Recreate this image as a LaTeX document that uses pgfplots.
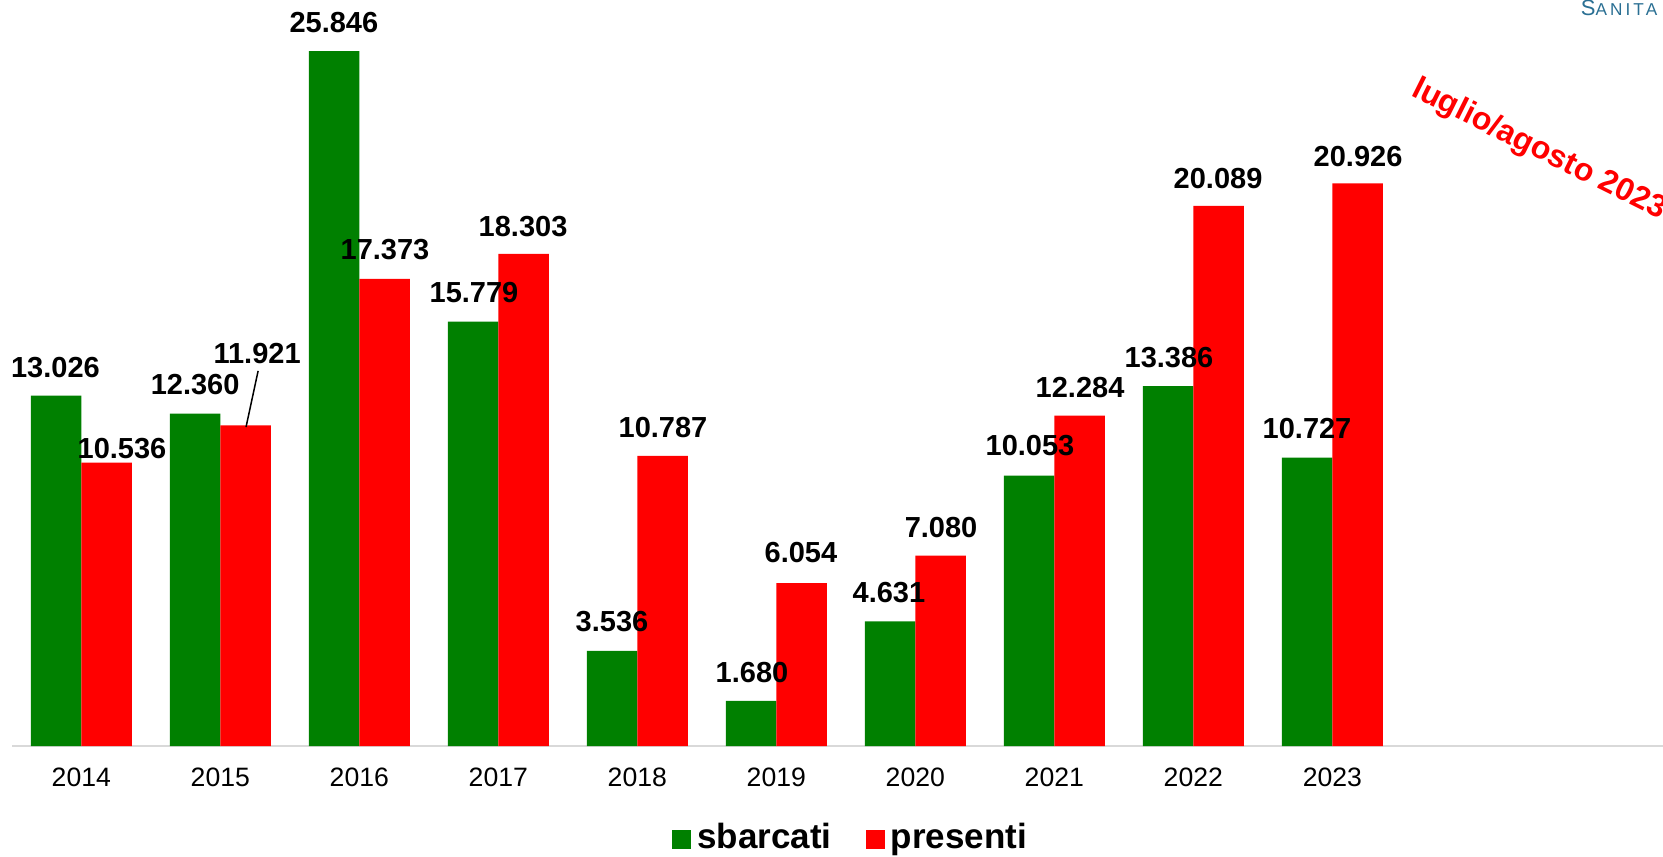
\documentclass[border=0pt]{standalone}
\usepackage{pgfplots}
\pgfplotsset{compat=1.18}
\usepackage{fontspec}
\setmainfont{Liberation Sans}
\definecolor{barG}{HTML}{008000}
\definecolor{barR}{HTML}{FF0000}
\definecolor{axgray}{HTML}{D9D9D9}
\definecolor{logoblue}{HTML}{2A6F93}
\begin{document}
\begin{tikzpicture}
\useasboundingbox (-6pt,-55pt) rectangle (825.5pt,373pt);
\begin{axis}[
  at={(0pt,0pt)}, anchor=south west,
  scale only axis, width=825.5pt, height=373pt,
  xmin=-0.4986, xmax=11.379, ymin=0, ymax=27.743,
  axis x line*=bottom, axis y line=none,
  x axis line style={draw=axgray, line width=1pt},
  xtick={0,1,2,3,4,5,6,7,8,9},
  xticklabels={2014,2015,2016,2017,2018,2019,2020,2021,2022,2023},
  major tick length=0pt,
  xticklabel style={font=\fontsize{13.3pt}{16pt}\selectfont, inner sep=0pt, anchor=north, yshift=-11pt},
  clip=false,
  legend style={draw=none, fill=none, inner sep=0pt, at={(0.3998,-0.123)}, anchor=west,
    legend columns=2, font=\fontsize{17.5pt}{20pt}\selectfont\bfseries,
    nodes={inner sep=3pt},
    /tikz/every even column/.append style={column sep=14pt}},
  legend image code/.code={\fill[#1] (0pt,-5.75pt) rectangle (9.5pt,3.75pt);},
]
\addplot[ybar, bar width=25.25pt, bar shift=-12.625pt, fill=barG, draw=none]
  coordinates {(0,13.026) (1,12.360) (2,25.846) (3,15.779) (4,3.536) (5,1.680) (6,4.631) (7,10.053) (8,13.386) (9,10.727)};
\addlegendentry{sbarcati}
\addplot[ybar, bar width=25.25pt, bar shift=12.625pt, fill=barR, draw=none]
  coordinates {(0,10.536) (1,11.921) (2,17.373) (3,18.303) (4,10.787) (5,6.054) (6,7.080) (7,12.284) (8,20.089) (9,20.926)};
\addlegendentry{presenti}

\tikzset{vl/.style={font=\fontsize{14.5pt}{17pt}\selectfont\bfseries, inner sep=0pt, anchor=center}}
\node[vl] at (axis cs:-0.186,14.08) {13.026};
\node[vl] at (axis cs:0.293,11.08) {10.536};
\node[vl] at (axis cs:0.819,13.43) {12.360};
\node[vl] at (axis cs:1.265,14.61) {11.921};
\draw[black, line width=0.75pt] (axis cs:1.272,13.95) -- (axis cs:1.185,11.86);
\node[vl] at (axis cs:1.817,26.89) {25.846};
\node[vl] at (axis cs:2.185,18.45) {17.373};
\node[vl] at (axis cs:2.825,16.85) {15.779};
\node[vl] at (axis cs:3.178,19.30) {18.303};
\node[vl] at (axis cs:3.818,4.61) {3.536};
\node[vl] at (axis cs:4.185,11.86) {10.787};
\node[vl] at (axis cs:4.825,2.75) {1.680};
\node[vl] at (axis cs:5.177,7.18) {6.054};
\node[vl] at (axis cs:5.810,5.69) {4.631};
\node[vl] at (axis cs:6.185,8.14) {7.080};
\node[vl] at (axis cs:6.825,11.16) {10.053};
\node[vl] at (axis cs:7.185,13.35) {12.284};
\node[vl] at (axis cs:7.825,14.43) {13.386};
\node[vl] at (axis cs:8.178,21.09) {20.089};
\node[vl] at (axis cs:8.818,11.79) {10.727};
\node[vl] at (axis cs:9.185,21.94) {20.926};

\node[anchor=base west, inner sep=0pt, rotate=-26.5, text=barR, font=\fontsize{16pt}{19pt}\selectfont\bfseries]
  at (axis cs:9.559,24.21) {luglio/agosto 2023};
\node[anchor=base west, inner sep=0pt, text=logoblue]
  at (axis cs:10.785,27.18) {\addfontfeature{LetterSpace=18}{\fontsize{11pt}{13pt}\selectfont S}{\fontsize{8.6pt}{10pt}\selectfont ANITA}};
\end{axis}
\end{tikzpicture}
\end{document}
